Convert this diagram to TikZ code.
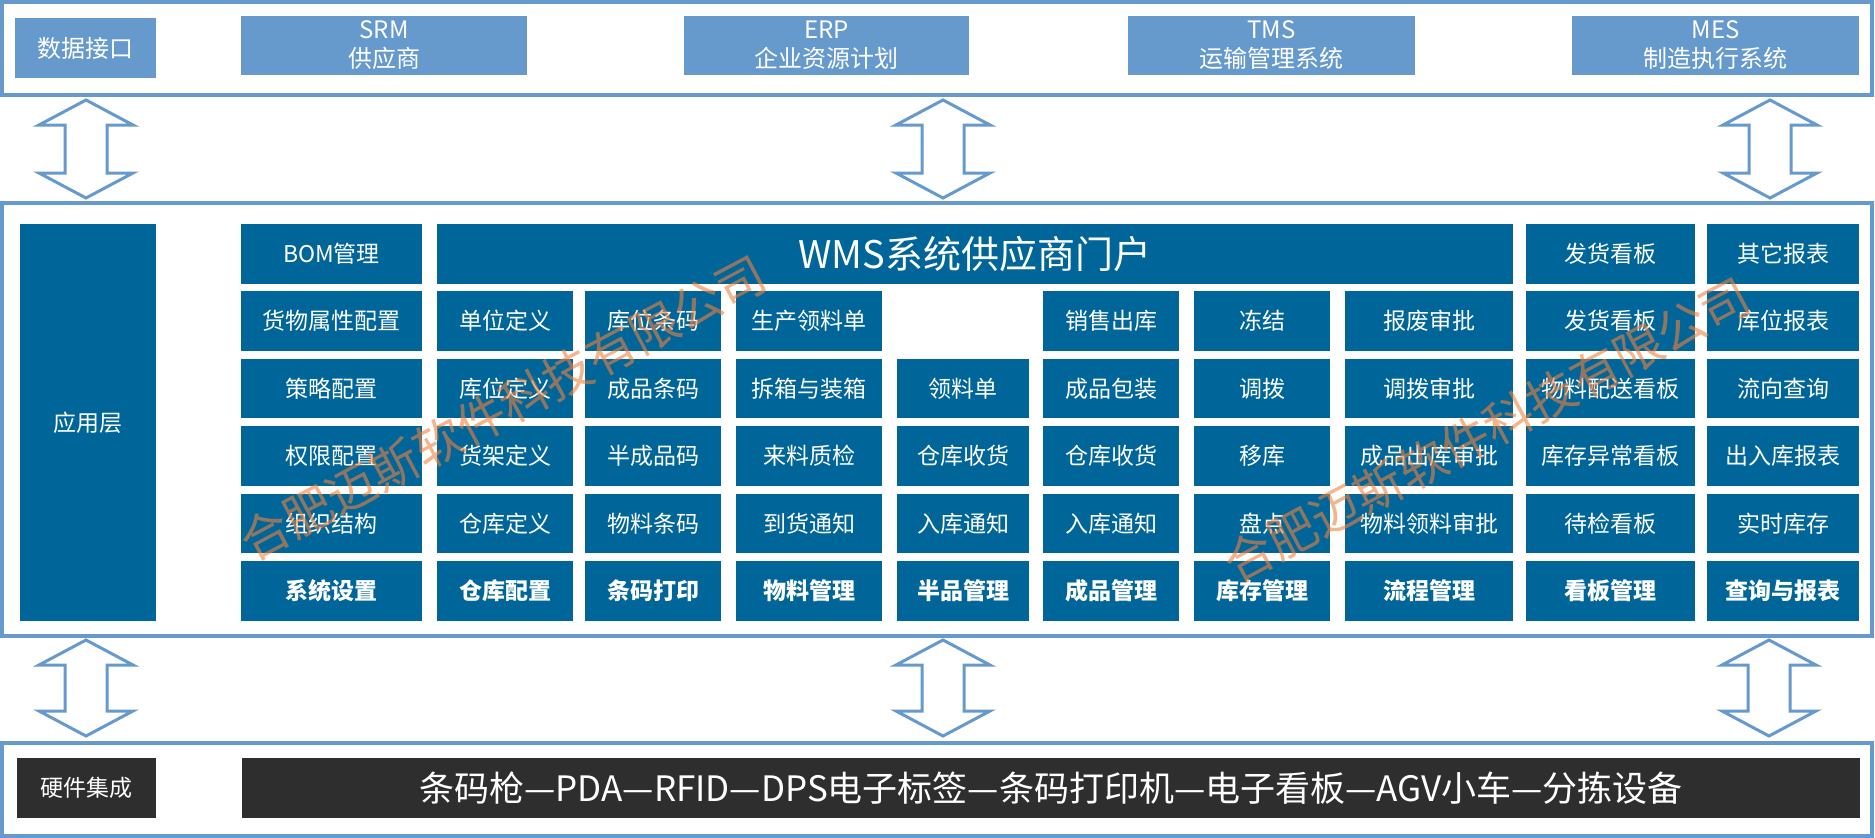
\documentclass[tikz,border=0pt]{standalone}
\usepackage{fontspec}
\setmainfont{Noto Sans CJK SC}
\definecolor{lblue}{RGB}{102,153,204}
\definecolor{dblue}{RGB}{0,102,153}
\definecolor{dgray}{RGB}{46,46,46}
\definecolor{wmark}{RGB}{240,130,60}
\newcommand\fsz[2]{\fontsize{#1}{#2}\selectfont}
% box from (x1,y1) to (x2,y2): style, name, x1, y1, x2, y2, text
\newcommand\bx[7]{\node[#1, minimum width={(#5-#3)*1pt}, minimum height={(#6-#4)*1pt}] (#2) at ({(#3+#5)/2},{(#4+#6)/2}) {#7};}
% grid cell: name, x1, x2, row, text
\newcommand\cell[5]{\pgfmathsetmacro\cya{224+67.4*(#4-1)}\bx{cellbox}{#1}{#2}{\cya}{#3}{\cya+59.5}{#5}}
% block double arrow: centre x, top y, bottom y
\newcommand\darrow[3]{\draw[dualarrow] (#1,#2) -- ++(47,25) -- ++(-26,0) -- ({#1+21},{#3-25}) -- ++(26,0) -- (#1,#3) -- ++(-47,-25) -- ++(26,0) -- ({#1-21},{#2+25}) -- ++(-26,0) -- cycle;}
\begin{document}
\begin{tikzpicture}[x=1pt,y=-1pt,
  frame/.style={draw=lblue, line width=3.5pt, inner sep=0pt, outer sep=0pt},
  topbox/.style={fill=lblue, text=white, inner sep=0pt, align=center, font=\fsz{24}{29}},
  cellbox/.style={fill=dblue, text=white, inner sep=0pt, font=\fsz{23}{27}},
  darkbox/.style={fill=dgray, text=white, inner sep=0pt, font=\fsz{23}{27}},
  dualarrow/.style={draw=lblue, line width=3pt, fill=white, line join=miter},
  wmtext/.style={text=wmark, opacity=0.6, rotate=28, inner sep=0pt, font=\fsz{49}{49}}]
\useasboundingbox (0,0) rectangle (1875,838);
\fill[white] (0,0) rectangle (1875,838);

% frames
\bx{frame}{topframe}{1.75}{1.75}{1872}{95}{}
\bx{frame}{midframe}{1.75}{203}{1872}{636}{}
\bx{frame}{botframe}{1.75}{743}{1872}{836}{}

% top row: data interfaces
\bx{topbox}{iface}{15}{18}{156}{78}{数据接口}
\bx{topbox}{srm}{241}{16}{527}{75}{SRM\\供应商}
\bx{topbox}{erp}{684}{16}{969}{75}{ERP\\企业资源计划}
\bx{topbox}{tms}{1128}{16}{1415}{75}{TMS\\运输管理系统}
\bx{topbox}{mes}{1572}{16}{1859}{75}{MES\\制造执行系统}

% arrows between layers
\darrow{86}{100}{198}
\darrow{943}{100}{198}
\darrow{1770}{100}{198}
\darrow{86}{640}{736}
\darrow{943}{640}{736}
\darrow{1769}{640}{736}

% application layer
\bx{cellbox}{applayer}{20}{224}{156}{621}{应用层}
\bx{cellbox}{wms}{437}{224}{1513}{283.5}{\fsz{38}{40}WMS系统供应商门户}

% column 1
\foreach \t [count=\r] in {BOM管理,货物属性配置,策略配置,权限配置,组织结构}
  {\cell{ca\r}{241}{422}{\r}{\t}}
\cell{ca6}{241}{422}{6}{\bfseries 系统设置}
% column 2
\foreach \t [count=\r from 2] in {单位定义,库位定义,货架定义,仓库定义}
  {\cell{cb\r}{437}{573}{\r}{\t}}
\cell{cb6}{437}{573}{6}{\bfseries 仓库配置}
% column 3
\foreach \t [count=\r from 2] in {库位条码,成品条码,半成品码,物料条码}
  {\cell{cc\r}{585}{721}{\r}{\t}}
\cell{cc6}{585}{721}{6}{\bfseries 条码打印}
% column 4
\foreach \t [count=\r from 2] in {生产领料单,拆箱与装箱,来料质检,到货通知}
  {\cell{cd\r}{736}{882}{\r}{\t}}
\cell{cd6}{736}{882}{6}{\bfseries 物料管理}
% column 5
\foreach \t [count=\r from 3] in {领料单,仓库收货,入库通知}
  {\cell{ce\r}{897}{1029}{\r}{\t}}
\cell{ce6}{897}{1029}{6}{\bfseries 半品管理}
% column 6
\foreach \t [count=\r from 2] in {销售出库,成品包装,仓库收货,入库通知}
  {\cell{cf\r}{1043}{1179}{\r}{\t}}
\cell{cf6}{1043}{1179}{6}{\bfseries 成品管理}
% column 7
\foreach \t [count=\r from 2] in {冻结,调拨,移库,盘点}
  {\cell{cg\r}{1194}{1330}{\r}{\t}}
\cell{cg6}{1194}{1330}{6}{\bfseries 库存管理}
% column 8
\foreach \t [count=\r from 2] in {报废审批,调拨审批,成品出库审批,物料领料审批}
  {\cell{ch\r}{1345}{1513}{\r}{\t}}
\cell{ch6}{1345}{1513}{6}{\bfseries 流程管理}
% column 9
\foreach \t [count=\r] in {发货看板,发货看板,物料配送看板,库存异常看板,待检看板}
  {\cell{ci\r}{1526}{1695}{\r}{\t}}
\cell{ci6}{1526}{1695}{6}{\bfseries 看板管理}
% column 10
\foreach \t [count=\r] in {其它报表,库位报表,流向查询,出入库报表,实时库存}
  {\cell{cj\r}{1707}{1859}{\r}{\t}}
\cell{cj6}{1707}{1859}{6}{\bfseries 查询与报表}

% hardware layer
\bx{darkbox}{hwlabel}{17}{758}{156}{818}{硬件集成}
\bx{darkbox}{hwlist}{242}{758}{1860}{818}{\fsz{35}{38}条码枪—PDA—RFID—DPS电子标签—条码打印机—电子看板—AGV小车—分拣设备}

% watermarks
\node[wmtext] (wm1) at (503,408) {合肥迈斯软件科技有限公司};
\node[wmtext] (wm2) at (1487,430) {合肥迈斯软件科技有限公司};
\end{tikzpicture}
\end{document}
